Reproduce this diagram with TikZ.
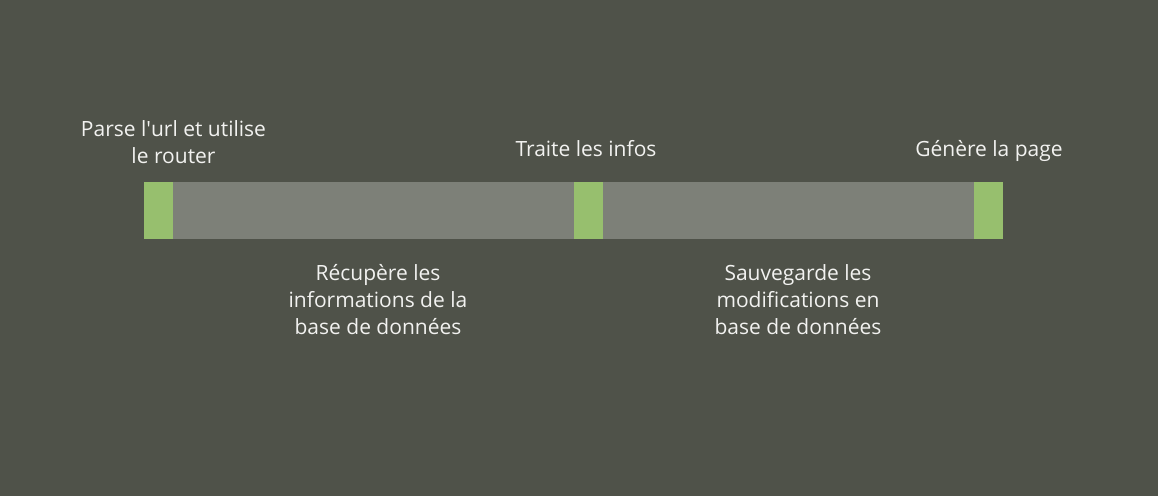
\documentclass[tikz,border=0pt]{standalone}
\usepackage{fontspec}
\setmainfont{Open Sans}
\usepackage{tikz}
\usetikzlibrary{positioning}
\definecolor{BgOlive}{HTML}{4F5249}
\definecolor{BarGray}{HTML}{7D8078}
\definecolor{StageGreen}{HTML}{97BF6E}
\definecolor{LabelWhite}{HTML}{F2F2F0}

\begin{document}
\begin{tikzpicture}[x=0.75pt, y=-0.75pt, node distance=0pt, every node/.style={font=\fontsize{15.75}{20.25}\selectfont, text=LabelWhite, inner sep=0pt, outer sep=0pt}, stagebox/.style={fill=StageGreen, minimum width=21.75pt, minimum height=42.75pt}, workbox/.style={fill=BarGray, minimum height=42.75pt}, txt/.style={align=center, anchor=base}]
\fill[BgOlive] (0,0) rectangle (1158,496);
\useasboundingbox (0,0) rectangle (1158,496);
\node[stagebox, anchor=north west] (parse) at (144,182) {};
\node[workbox, minimum width=300.75pt] (fetch) [right=of parse] {};
\node[stagebox] (process) [right=of fetch] {};
\node[workbox, minimum width=278.25pt] (save) [right=of process] {};
\node[stagebox] (render) [right=of save] {};
% labels: base = baseline of last line
\node[txt] (parsetxt) at (173.5,163.3) {Parse l\textquotesingle url et utilise\\le router};
\node[txt] (processtxt) at (586,156.5) {Traite les infos};
\node[txt] (rendertxt) at (989,156.5) {Génère la page};
\node[txt] (fetchtxt) at (378,334) {Récupère les\\informations de la\\base de données};
\node[txt] (savetxt) at (798,334) {Sauvegarde les\\modifications en\\base de données};
\end{tikzpicture}
\end{document}
